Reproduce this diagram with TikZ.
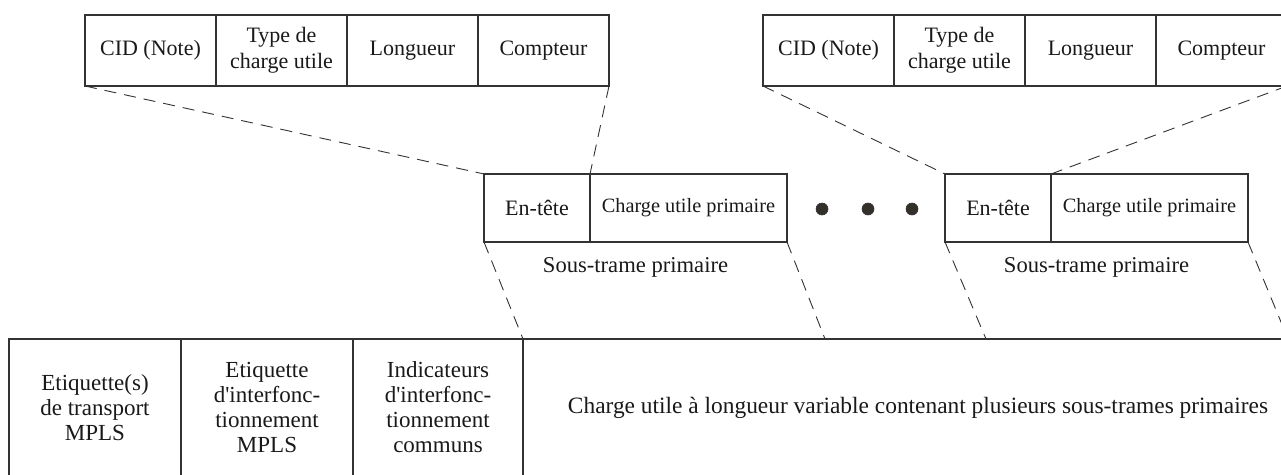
\documentclass[tikz,border=0pt]{standalone}
\usepackage{fontspec}
\setmainfont{Liberation Serif}[Ligatures=TeXOff]
\begin{document}
\begin{tikzpicture}[x=1pt,y=-1pt,
  ink/.style={draw=black!80, line width=1.3pt},
  cell/.style={ink, rectangle, inner sep=0pt, outer sep=0pt, align=center,
    text=black!90, font=\fontsize{22}{26}\selectfont},
  small/.style={font=\fontsize{20.3}{24}\selectfont},
  big/.style={font=\fontsize{23}{25}\selectfont},
  lead/.style={draw=black!80, line width=0.9pt, dash pattern=on 12pt off 8pt},
  dot/.style={circle, fill=black!75!olive!60!black, draw=black!80, line width=0.6pt,
    minimum size=12pt, inner sep=0pt},
  caption/.style={text=black!90, font=\fontsize{22.6}{26}\selectfont}
]
\useasboundingbox (0,0) rectangle (1281,474);

% ---- header fields, first sub-frame ----
\node[cell, minimum width=131pt, minimum height=71pt] (cidA) at (150.5,50.5) {CID (Note)};
\node[cell, minimum width=131pt, minimum height=71pt] (typA) at (281.5,50.5) {Type de\\charge utile};
\node[cell, minimum width=131pt, minimum height=71pt] (lenA) at (412.5,50.5) {Longueur};
\node[cell, minimum width=131pt, minimum height=71pt] (cntA) at (543.5,50.5) {Compteur};

% ---- header fields, last sub-frame ----
\node[cell, minimum width=131pt, minimum height=71pt] (cidB) at (828.5,50.5) {CID (Note)};
\node[cell, minimum width=131pt, minimum height=71pt] (typB) at (959.5,50.5) {Type de\\charge utile};
\node[cell, minimum width=131pt, minimum height=71pt] (lenB) at (1090.5,50.5) {Longueur};
\node[cell, minimum width=131pt, minimum height=71pt] (cntB) at (1221.5,50.5) {Compteur};

% ---- primary sub-frames ----
\node[cell, minimum width=106pt, minimum height=68pt] (hdA) at (537,208) {En-tête};
\node[cell, small, minimum width=197pt, minimum height=68pt] (plA) at (688.5,208) {Charge utile primaire};
\node[caption] (capA) at (635.5,267) {Sous-trame primaire};

\node[cell, minimum width=106pt, minimum height=68pt] (hdB) at (998,208) {En-tête};
\node[cell, small, minimum width=197pt, minimum height=68pt] (plB) at (1149.5,208) {Charge utile primaire};
\node[caption] (capB) at (1096.5,267) {Sous-trame primaire};

% ---- ellipsis between sub-frames ----
\node[dot] (d1) at (822,209) {};
\node[dot] (d2) at (868,209) {};
\node[dot] (d3) at (912,209) {};

% ---- MPLS packet ----
\node[cell, big, minimum width=172pt, minimum height=137pt] (trA) at (95,407.5)
  {Etiquette(s)\\de transport\\MPLS};
\node[cell, big, minimum width=172pt, minimum height=137pt] (iwA) at (267,407.5)
  {Etiquette\\d'interfonc-\\tionnement\\MPLS};
\node[cell, big, minimum width=170pt, minimum height=137pt] (inA) at (438,407.5)
  {Indicateurs\\d'interfonc-\\tionnement\\communs};
\node[cell, font=\fontsize{23.4}{26}\selectfont, minimum width=790pt, minimum height=137pt] (vpA) at (918,407.5)
  {Charge utile à longueur variable contenant plusieurs sous-trames primaires};

% ---- free ends of the expansion lines on the packet ----
\coordinate (eA) at (825,339);
\coordinate (sB) at (986,339);
\coordinate (eB) at (1288,339);

% ---- expansion lines ----
\draw[lead] (cidA.south west) -- (hdA.north west);
\draw[lead] (cntA.south east) -- (hdA.north east);
\draw[lead] (cidB.south west) -- (hdB.north west);
\draw[lead] (cntB.south east) -- (hdB.north east);
\draw[lead] (hdA.south west) -- (inA.north east);
\draw[lead] (plA.south east) -- (eA);
\draw[lead] (hdB.south west) -- (sB);
\draw[lead] (plB.south east) -- (eB);
\end{tikzpicture}
\end{document}
